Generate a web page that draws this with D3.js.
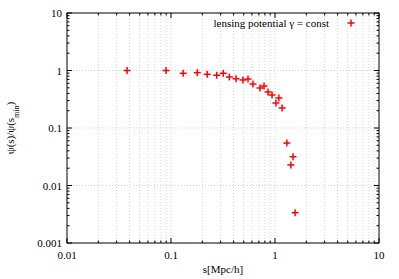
<!DOCTYPE html>
<html>
<head>
<meta charset="utf-8">
<script src="https://cdn.jsdelivr.net/npm/d3@7"></script>
<style>
  body { margin: 0; background: #fff; }
  text { font-family: "Liberation Serif", "DejaVu Serif", serif; }
</style>
</head>
<body>
<div id="chartDiv"></div>
<script>
// data
var sVals = [0.0378, 0.0895, 0.131, 0.179, 0.223, 0.275, 0.318, 0.364, 0.422, 0.492, 0.550, 0.614,
             0.717, 0.784, 0.857, 0.936, 1.02, 1.09, 1.17, 1.30, 1.49, 1.42, 1.56];
var psiVals = [1.0, 1.0, 0.894, 0.916, 0.859, 0.826, 0.894, 0.771, 0.720, 0.684, 0.711, 0.582,
               0.496, 0.537, 0.423, 0.375, 0.272, 0.333, 0.223, 0.0548, 0.0317, 0.0228, 0.00337];
var xTicks = [0.01, 0.1, 1, 10];
var xTickLabels = ["0.01", "0.1", "1", "10"];
var yTicks = [0.001, 0.01, 0.1, 1, 10];
var yTickLabels = ["0.001", "0.01", "0.1", "1", "10"];
var legendLabel = "lensing potential \u03b3 = const";

var width = 399, height = 279;
var margin = { top: 13, right: 20, bottom: 36, left: 67 };
var plotW = width - margin.left - margin.right;
var plotH = height - margin.top - margin.bottom;

var svg = d3.select("#chartDiv").append("svg")
  .attr("width", width)
  .attr("height", height);

var g = svg.append("g")
  .attr("transform", "translate(" + margin.left + "," + margin.top + ")");

var xScale = d3.scaleLog().domain([0.01, 10]).range([0, plotW]);
var yScale = d3.scaleLog().domain([0.001, 10]).range([plotH, 0]);

// minor ticks (2..9 in each decade)
function minors(lo, hi) {
  var out = [];
  for (var d = lo; d < hi; d *= 10) {
    for (var k = 2; k <= 9; k++) out.push(d * k);
  }
  return out;
}
var xMinor = minors(0.01, 10);
var yMinor = minors(0.001, 10);

// grid: vertical at all x ticks, horizontal at major y only
g.selectAll(".gridx")
  .data(xTicks.slice(1, -1).concat(xMinor))
  .enter().append("line")
    .attr("x1", function(d) { return xScale(d); })
    .attr("x2", function(d) { return xScale(d); })
    .attr("y1", 0).attr("y2", plotH)
    .attr("stroke", "#c8c8c8")
    .attr("stroke-width", 0.8)
    .attr("stroke-dasharray", "1,2");

g.selectAll(".gridy")
  .data(yTicks.slice(1, -1))
  .enter().append("line")
    .attr("y1", function(d) { return yScale(d); })
    .attr("y2", function(d) { return yScale(d); })
    .attr("x1", 0).attr("x2", plotW)
    .attr("stroke", "#c8c8c8")
    .attr("stroke-width", 0.8)
    .attr("stroke-dasharray", "1,2");

// ticks, inside, mirrored on all sides
var majorLen = 5, minorLen = 2.5;
function tickLines(vals, len, horizontal) {
  vals.forEach(function(v) {
    if (horizontal) {
      var x = xScale(v);
      g.append("line").attr("x1", x).attr("x2", x).attr("y1", plotH).attr("y2", plotH - len).attr("stroke", "#000");
      g.append("line").attr("x1", x).attr("x2", x).attr("y1", 0).attr("y2", len).attr("stroke", "#000");
    } else {
      var y = yScale(v);
      g.append("line").attr("y1", y).attr("y2", y).attr("x1", 0).attr("x2", len).attr("stroke", "#000");
      g.append("line").attr("y1", y).attr("y2", y).attr("x1", plotW).attr("x2", plotW - len).attr("stroke", "#000");
    }
  });
}
tickLines(xTicks, majorLen, true);
tickLines(xMinor, minorLen, true);
tickLines(yTicks, majorLen, false);
tickLines(yMinor, minorLen, false);

// border
g.append("rect")
  .attr("width", plotW).attr("height", plotH)
  .attr("fill", "none").attr("stroke", "#000").attr("stroke-width", 1);

// tick labels
g.selectAll(".xlab")
  .data(xTicks)
  .enter().append("text")
    .attr("x", function(d) { return xScale(d); })
    .attr("y", plotH + 16)
    .attr("text-anchor", "middle")
    .style("font-size", "11px")
    .text(function(d, i) { return xTickLabels[i]; });

g.selectAll(".ylab")
  .data(yTicks)
  .enter().append("text")
    .attr("x", -5)
    .attr("y", function(d) { return yScale(d) + 4; })
    .attr("text-anchor", "end")
    .style("font-size", "11px")
    .text(function(d, i) { return yTickLabels[i]; });

// axis titles
svg.append("text")
  .attr("x", margin.left + plotW / 2)
  .attr("y", 273)
  .attr("text-anchor", "middle")
  .style("font-size", "11px")
  .text("s[Mpc/h]");

var yt = svg.append("text")
  .attr("text-anchor", "middle")
  .attr("transform", "translate(14," + (margin.top + plotH / 2) + ") rotate(-90)")
  .style("font-size", "11px");
yt.append("tspan").text("\u03c8(s)/\u03c8(s");
yt.append("tspan").attr("baseline-shift", "sub").style("font-size", "8px").text("min");
yt.append("tspan").text(")");

// points as "+" markers
var half = 3.5;
function plus(sel) {
  sel.append("line").attr("x1", -half).attr("x2", half).attr("y1", 0).attr("y2", 0);
  sel.append("line").attr("y1", -half).attr("y2", half).attr("x1", 0).attr("x2", 0);
}
var pts = g.selectAll(".pt")
  .data(sVals.map(function(s, i) { return { s: s, p: psiVals[i] }; }))
  .enter().append("g")
    .attr("class", "pt")
    .attr("transform", function(d) { return "translate(" + xScale(d.s) + "," + yScale(d.p) + ")"; })
    .attr("stroke", "#ff0000")
    .attr("stroke-width", 1.5);
pts.each(function() { plus(d3.select(this)); });

// legend
g.append("text")
  .attr("x", 262)
  .attr("y", 14)
  .attr("text-anchor", "end")
  .style("font-size", "11px")
  .text(legendLabel);
var lg = g.append("g")
  .attr("transform", "translate(284,10)")
  .attr("stroke", "#ff0000")
  .attr("stroke-width", 1.5);
plus(lg);
</script>
</body>
</html>
